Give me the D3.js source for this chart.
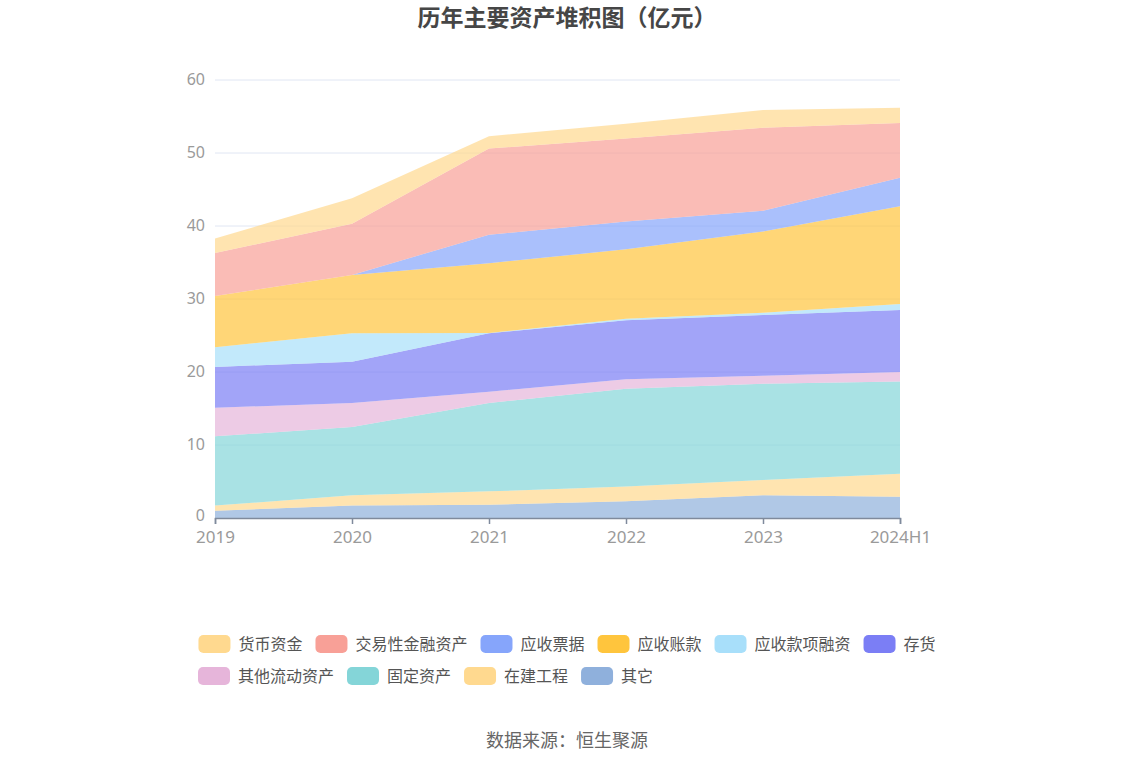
<!DOCTYPE html>
<html>
<head>
<meta charset="utf-8">
<script src="https://cdn.jsdelivr.net/npm/d3@7"></script>
<style>
  body { margin: 0; background: #fff; }
  svg { font-family: "Noto Sans CJK SC", "Noto Sans", sans-serif; }
</style>
</head>
<body>
<svg id="chart" width="1134" height="766"></svg>
<script>
// Data (亿元)
var years = ["2019", "2020", "2021", "2022", "2023", "2024H1"]
var yTicks = [0, 10, 20, 30, 40, 50, 60]

// legend order (top of stack first)
var seriesNames = ["货币资金", "交易性金融资产", "应收票据", "应收账款", "应收款项融资", "存货", "其他流动资产", "固定资产", "在建工程", "其它"]
var seriesColors = ["#ffd98f", "#f8a097", "#86a5fb", "#ffc53d", "#a8dffa", "#7b7ef5", "#e6b5da", "#84d5d8", "#ffd98f", "#8fb0dc"]

var cash        = [2.0, 3.5, 1.7, 2.0, 2.45, 2.1]
var tradingFin  = [5.9, 7.0, 11.8, 11.4, 11.35, 7.5]
var notesRec    = [0, 0, 3.9, 3.8, 2.85, 3.9]
var accountsRec = [7.0, 8.0, 9.55, 9.5, 11.15, 13.4]
var recFinance  = [2.7, 3.9, 0.05, 0.2, 0.3, 0.8]
var inventory   = [5.6, 5.65, 8.0, 8.1, 8.3, 8.5]
var otherCur    = [3.9, 3.3, 1.55, 1.3, 1.1, 1.3]
var fixedAssets = [9.5, 9.35, 12.1, 13.4, 13.2, 12.65]
var construct   = [0.7, 1.4, 1.85, 2.0, 2.1, 3.15]
var others      = [1.0, 1.7, 1.8, 2.3, 3.1, 2.9]

var seriesValues = [cash, tradingFin, notesRec, accountsRec, recFinance, inventory, otherCur, fixedAssets, construct, others]

// build rows for d3.stack
var rows = years.map(function (y, i) {
  var r = { year: y }
  seriesNames.forEach(function (n, k) { r[n] = seriesValues[k][i] })
  return r
})

var margin = { left: 215, top: 80, right: 234, bottom: 248 }
var width = 1134 - margin.left - margin.right
var height = 766 - margin.top - margin.bottom

var svg = d3.select("#chart")

// Title
svg.append("text")
  .attr("x", 567)
  .attr("y", 26)
  .attr("text-anchor", "middle")
  .style("font-size", "23px")
  .style("font-weight", "bold")
  .attr("fill", "#464646")
  .text("历年主要资产堆积图（亿元）")

var chart = svg.append("g")
  .attr("transform", "translate(" + margin.left + "," + margin.top + ")")

var xscale = d3.scalePoint().domain(years).range([0, width])
var yscale = d3.scaleLinear().domain([0, 60]).range([height, 0])

// Grid lines
chart.append("g")
  .selectAll("line")
  .data(yTicks.slice(1))
  .enter()
  .append("line")
  .attr("x1", 0)
  .attr("x2", width)
  .attr("y1", function (d) { return yscale(d) })
  .attr("y2", function (d) { return yscale(d) })
  .attr("stroke", "#e0e6f3")
  .attr("stroke-width", 1)

// Stacked areas: bottom series is the last in the legend
var stackKeys = seriesNames.slice().reverse()
var stack = d3.stack().keys(stackKeys)
var layers = stack(rows)

var area = d3.area()
  .x(function (d) { return xscale(d.data.year) })
  .y0(function (d) { return yscale(d[0]) })
  .y1(function (d) { return yscale(d[1]) })

chart.append("g")
  .selectAll("path")
  .data(layers)
  .enter()
  .append("path")
  .attr("d", area)
  .attr("fill", function (d) { return seriesColors[seriesNames.indexOf(d.key)] })
  .attr("fill-opacity", 0.7)

// Y axis (labels only)
var yAxis = d3.axisLeft(yscale).tickValues(yTicks).tickSize(0).tickPadding(10)
var yg = chart.append("g").call(yAxis)
yg.select(".domain").remove()
yg.selectAll("text")
  .style("font-size", "16px")
  .attr("fill", "#9a9a9a")
  .attr("dy", function (d) { return d == 0 ? "0.18em" : "0.3em" }) // lift the 0 a bit off the x labels
  .style("font-family", "'Noto Sans', sans-serif")

// X axis
var xAxis = d3.axisBottom(xscale).tickSize(6).tickPadding(7)
var xg = chart.append("g")
  .attr("transform", "translate(0," + height + ")")
  .call(xAxis)
xg.select(".domain").attr("stroke", "#7f8a9c").attr("stroke-width", 1.5)
xg.selectAll(".tick line").attr("stroke", "#7f8a9c").attr("stroke-width", 1.5)
xg.selectAll("text")
  .style("font-size", "17px")
  .attr("fill", "#9a9a9a")
  .style("font-family", "'Noto Sans', sans-serif")

// Legend, two rows, centred
var legendRows = [seriesNames.slice(0, 6), seriesNames.slice(6)]
var legend = svg.append("g").attr("class", "legend")
var itemGap = 13

legendRows.forEach(function (names, r) {
  var row = legend.append("g")
  var x = 0
  names.forEach(function (n) {
    var item = row.append("g").attr("transform", "translate(" + x + ",0)")
    item.append("rect")
      .attr("x", 0)
      .attr("y", -9)
      .attr("width", 32)
      .attr("height", 18)
      .attr("rx", 5)
      .attr("fill", seriesColors[seriesNames.indexOf(n)])
    var t = item.append("text")
      .attr("x", 40)
      .attr("y", 6)
      .style("font-size", "16px")
      .attr("fill", "#555")
      .text(n)
    x += 40 + t.node().getComputedTextLength() + itemGap
  })
  var rowWidth = x - itemGap
  var x0 = r == 0 ? (1134 - rowWidth) / 2 : 198
  row.attr("transform", "translate(" + x0 + "," + (644 + r * 32) + ")")
})

// Source
svg.append("text")
  .attr("x", 567)
  .attr("y", 747)
  .attr("text-anchor", "middle")
  .style("font-size", "18px")
  .attr("fill", "#666")
  .text("数据来源：恒生聚源")
</script>
</body>
</html>
